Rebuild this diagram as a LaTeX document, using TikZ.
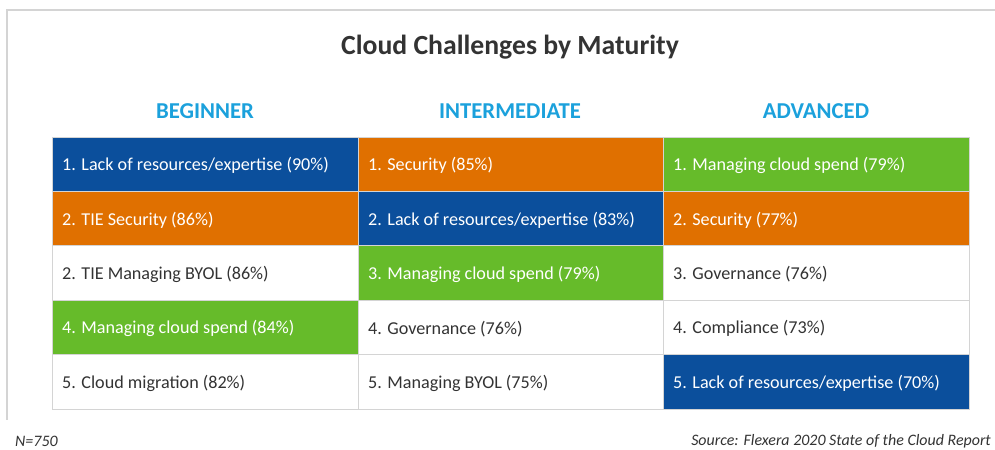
\documentclass[tikz,border=0pt]{standalone}
\usepackage{fontspec}
\setmainfont{Carlito}
\definecolor{cblue}{HTML}{0B4F9C}
\definecolor{corange}{HTML}{E07000}
\definecolor{cgreen}{HTML}{66BB2A}
\definecolor{ccyan}{HTML}{1BA1DC}
\definecolor{ctitle}{HTML}{333333}
\definecolor{cgrid}{HTML}{D4D4D4}
\definecolor{ctext}{HTML}{333333}
\begin{document}
\begin{tikzpicture}[x=1bp,y=-1bp,
  lbl/.style={anchor=west,inner sep=0pt,font=\fontsize{18.2}{21}\selectfont},
  wl/.style={lbl,text=white},
  dl/.style={lbl,text=ctext},
  hdr/.style={font=\fontsize{22.8}{26}\selectfont\bfseries,text=ccyan},
  foot/.style={inner sep=0pt,font=\fontsize{16}{19}\selectfont\itshape,text=ctext}]
\useasboundingbox (0,0) rectangle (995,450);
\fill[white] (0,0) rectangle (995,450);
% frame
\draw[cgrid,line width=1.2bp] (7,420) -- (7,10) -- (995,10);
% title
\node[font=\fontsize{27.8}{32}\selectfont\bfseries,text=ctitle] (title) at (510,47) {Cloud Challenges by Maturity};
\node[hdr] (h1) at (205,111) {BEGINNER};
\node[hdr] (h2) at (510,111) {INTERMEDIATE};
\node[hdr] (h3) at (816,111) {ADVANCED};
% cells: columns at 52, 358, 663; rows start 137 step 54.4
\foreach \c/\x in {1/52,2/358,3/663}{
  \foreach \r in {1,...,5}{
    \coordinate (p\c\r) at (\x,{137+(\r-1)*54.4});
  }
}
% fills
\fill[cblue]   (p11) rectangle ++(306,54.4);
\fill[corange] (p12) rectangle ++(306,54.4);
\fill[cgreen]  (p14) rectangle ++(306,54.4);
\fill[corange] (p21) rectangle ++(305,54.4);
\fill[cblue]   (p22) rectangle ++(305,54.4);
\fill[cgreen]  (p23) rectangle ++(305,54.4);
\fill[cgreen]  (p31) rectangle ++(306,54.4);
\fill[corange] (p32) rectangle ++(306,54.4);
\fill[cblue]   (p35) rectangle ++(306,54.4);
% grid lines
\draw[cgrid,line width=0.8bp] (52,137) rectangle (969,409);
\foreach \y in {191.4,245.8,300.2,354.6}{
  \draw[cgrid,line width=0.8bp] (52,\y) -- (969,\y);
}
\draw[cgrid,line width=0.8bp] (358,137) -- (358,409);
\draw[cgrid,line width=0.8bp] (663,137) -- (663,409);
% labels
\node[wl] (t11) at ([shift={(10,28.5)}]p11) {1. Lack of resources/expertise (90\%)};
\node[wl] (t12) at ([shift={(10,28.5)}]p12) {2. TIE Security (86\%)};
\node[dl] (t13) at ([shift={(10,28.5)}]p13) {2. TIE Managing BYOL (86\%)};
\node[wl] (t14) at ([shift={(10,28.5)}]p14) {4. Managing cloud spend (84\%)};
\node[dl] (t15) at ([shift={(10,28.5)}]p15) {5. Cloud migration (82\%)};
\node[wl] (t21) at ([shift={(10,28.5)}]p21) {1. Security (85\%)};
\node[wl] (t22) at ([shift={(10,28.5)}]p22) {2. Lack of resources/expertise (83\%)};
\node[wl] (t23) at ([shift={(10,28.5)}]p23) {3. Managing cloud spend (79\%)};
\node[dl] (t24) at ([shift={(10,28.5)}]p24) {4. Governance (76\%)};
\node[dl] (t25) at ([shift={(10,28.5)}]p25) {5. Managing BYOL (75\%)};
\node[wl] (t31) at ([shift={(10,28.5)}]p31) {1. Managing cloud spend (79\%)};
\node[wl] (t32) at ([shift={(10,28.5)}]p32) {2. Security (77\%)};
\node[dl] (t33) at ([shift={(10,28.5)}]p33) {3. Governance (76\%)};
\node[dl] (t34) at ([shift={(10,28.5)}]p34) {4. Compliance (73\%)};
\node[wl] (t35) at ([shift={(10,28.5)}]p35) {5. Lack of resources/expertise (70\%)};
% footer
\node[foot,anchor=west] (n) at (15,441) {N=750};
\node[foot,anchor=east] (src) at (991,441) {Source: Flexera 2020 State of the Cloud Report};
\end{tikzpicture}
\end{document}
